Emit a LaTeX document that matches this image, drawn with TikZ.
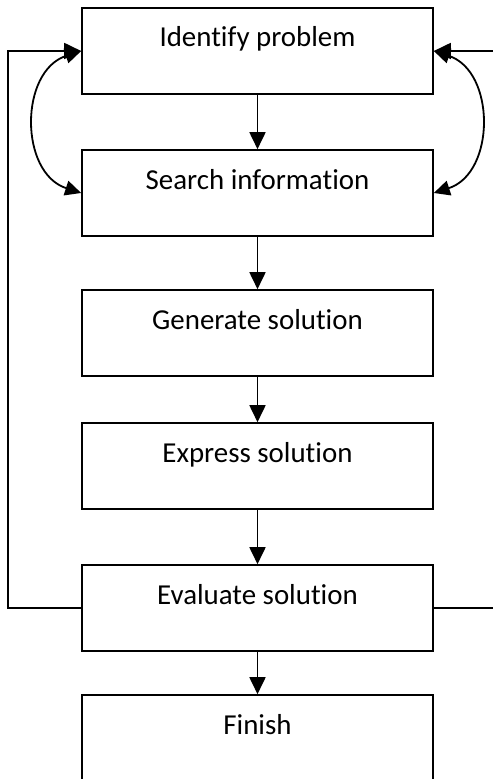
\documentclass[tikz,border=0pt]{standalone}
\usepackage{fontspec}
\setmainfont{Carlito}[RawFeature={-liga;-clig;-calt;-dlig}]
\usetikzlibrary{arrows.meta}
\begin{document}
\begin{tikzpicture}[x=1bp,y=-1bp,
  stage/.style={draw, line width=1.6bp, rectangle, inner sep=0pt,
    minimum width=351bp, text height=39bp, text depth=47bp,
    font=\fontsize{29}{34}\selectfont},
  flow/.style={line width=1.8bp, -{Triangle[length=17bp,width=16bp]}},
  twoway/.style={line width=1.8bp, {Triangle[length=16bp,width=15bp]}-{Triangle[length=16bp,width=15bp]}}]
\useasboundingbox (0,0) rectangle (493,779);

% process stages (baseline = node origin)
\node[stage, anchor=base] (idp) at (257.5,47)  {Identify problem};
\node[stage, anchor=base] (sea) at (257.5,189) {Search information};
\node[stage, anchor=base] (gen) at (257.5,329) {Generate solution};
\node[stage, anchor=base] (exp) at (257.5,462) {Express solution};
\node[stage, anchor=base] (eva) at (257.5,604) {Evaluate solution};
\node[stage, anchor=base, text depth=50bp] (fin) at (257.5,734) {Finish};

% main sequence
\draw[flow] (idp.south) -- (sea.north);
\draw[flow] (sea.south) -- (gen.north);
\draw[flow] (gen.south) -- (exp.north);
\draw[flow] (exp.south) -- (eva.north);
\draw[flow] (eva.south) -- (fin.north);

% iteration between the first two stages
\draw[twoway] (idp.west) .. controls ++(-62,20) and ([shift={(-62,-20)}]sea.west) .. (sea.west);
\draw[twoway] (idp.east) .. controls ++(62,20) and ([shift={(62,-20)}]sea.east) .. (sea.east);

% feedback loops from evaluation back to the start
\coordinate (lturn) at (8,0);
\coordinate (rturn) at (495,0);
\draw[flow] (eva.west) -| (lturn |- idp.west) -- (idp.west);
\draw[flow] (eva.east) -| (rturn |- idp.east) -- (idp.east);
\end{tikzpicture}
\end{document}
